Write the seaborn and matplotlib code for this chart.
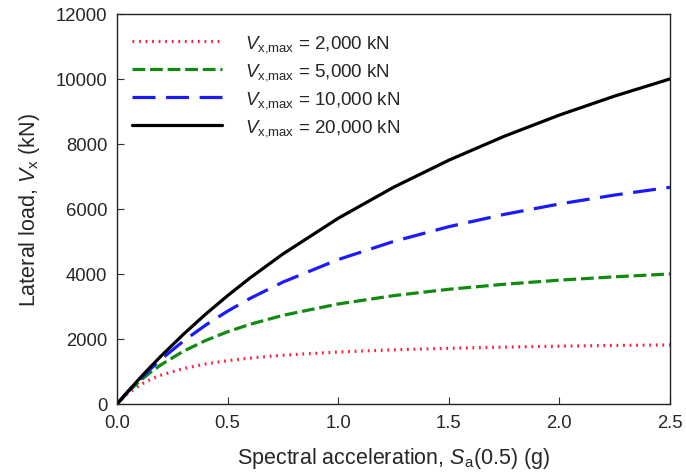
import pandas as pd
import matplotlib
matplotlib.use("Agg")
import matplotlib.pyplot as plt
import seaborn as sns

# spectral acceleration Sa(0.5) in g
sa = [0.0, 0.05, 0.1, 0.15, 0.2, 0.3, 0.4, 0.5, 0.6, 0.75, 1.0, 1.25, 1.5, 1.75, 2.0, 2.25, 2.5]

# lateral load Vx (kN)
v_2000 = [0, 333, 571, 750, 889, 1091, 1231, 1333, 1412, 1500, 1600, 1667, 1714, 1750, 1778, 1800, 1818]
v_5000 = [0, 370, 690, 968, 1212, 1622, 1951, 2222, 2449, 2727, 3077, 3333, 3529, 3684, 3810, 3913, 4000]
v_10000 = [0, 385, 741, 1071, 1379, 1935, 2424, 2857, 3243, 3750, 4444, 5000, 5455, 5833, 6154, 6429, 6667]
v_20000 = [0, 392, 769, 1132, 1481, 2143, 2759, 3333, 3871, 4615, 5714, 6667, 7500, 8235, 8889, 9474, 10000]

labels = [r"$V_{\mathrm{x{,}max}}$ = 2,000 kN",
          r"$V_{\mathrm{x{,}max}}$ = 5,000 kN",
          r"$V_{\mathrm{x{,}max}}$ = 10,000 kN",
          r"$V_{\mathrm{x{,}max}}$ = 20,000 kN"]

frames = []
for lab, vals in zip(labels, [v_2000, v_5000, v_10000, v_20000]):
    frames.append(pd.DataFrame({"Sa": sa, "Vx": vals, "case": lab}))
df = pd.concat(frames, ignore_index=True)

sns.set_style("ticks")
plt.rcParams["font.family"] = ["Liberation Sans", "DejaVu Sans"]
plt.rcParams["mathtext.fontset"] = "custom"
plt.rcParams["mathtext.rm"] = "Liberation Sans"
plt.rcParams["mathtext.it"] = "Liberation Sans:italic"
plt.rcParams["xtick.direction"] = "in"
plt.rcParams["ytick.direction"] = "in"

fig = plt.figure(figsize=(6.86, 4.77), dpi=100)
ax = fig.add_axes([0.1706, 0.151, 0.806, 0.8176])

palette = {labels[0]: "#ff1a3c", labels[1]: "#108a10",
           labels[2]: "#1a1aff", labels[3]: "#000000"}
dashes = {labels[0]: (0.55, 1.5), labels[1]: (4, 1.5),
          labels[2]: (7.2, 3.3), labels[3]: ""}

sns.lineplot(data=df, x="Sa", y="Vx", hue="case", style="case",
             palette=palette, dashes=dashes, linewidth=2.3, ax=ax)

ax.set_xlim(0, 2.5)
ax.set_ylim(0, 12000)
ax.set_xticks([0.0, 0.5, 1.0, 1.5, 2.0, 2.5])
ax.set_xticklabels(["0.0", "0.5", "1.0", "1.5", "2.0", "2.5"])
ax.set_yticks([0, 2000, 4000, 6000, 8000, 10000, 12000])
ax.tick_params(labelsize=13.3, length=5, color="#333333", pad=7)
for s in ax.spines.values():
    s.set_linewidth(1.0)
    s.set_color("#222222")

ax.set_xlabel(r"Spectral acceleration, $S_{\mathrm{a}}$(0.5) (g)", fontsize=15.5, labelpad=10)
ax.set_ylabel(r"Lateral load, $V_{\mathrm{x}}$ (kN)", fontsize=15.5, labelpad=10)

ax.legend(loc="upper left", frameon=False, fontsize=13.5, handlelength=4.8,
          handletextpad=1.2, labelspacing=0.38, borderaxespad=0.4,
          bbox_to_anchor=(0.0, 0.99))

fig.savefig("out.png", dpi=100)
